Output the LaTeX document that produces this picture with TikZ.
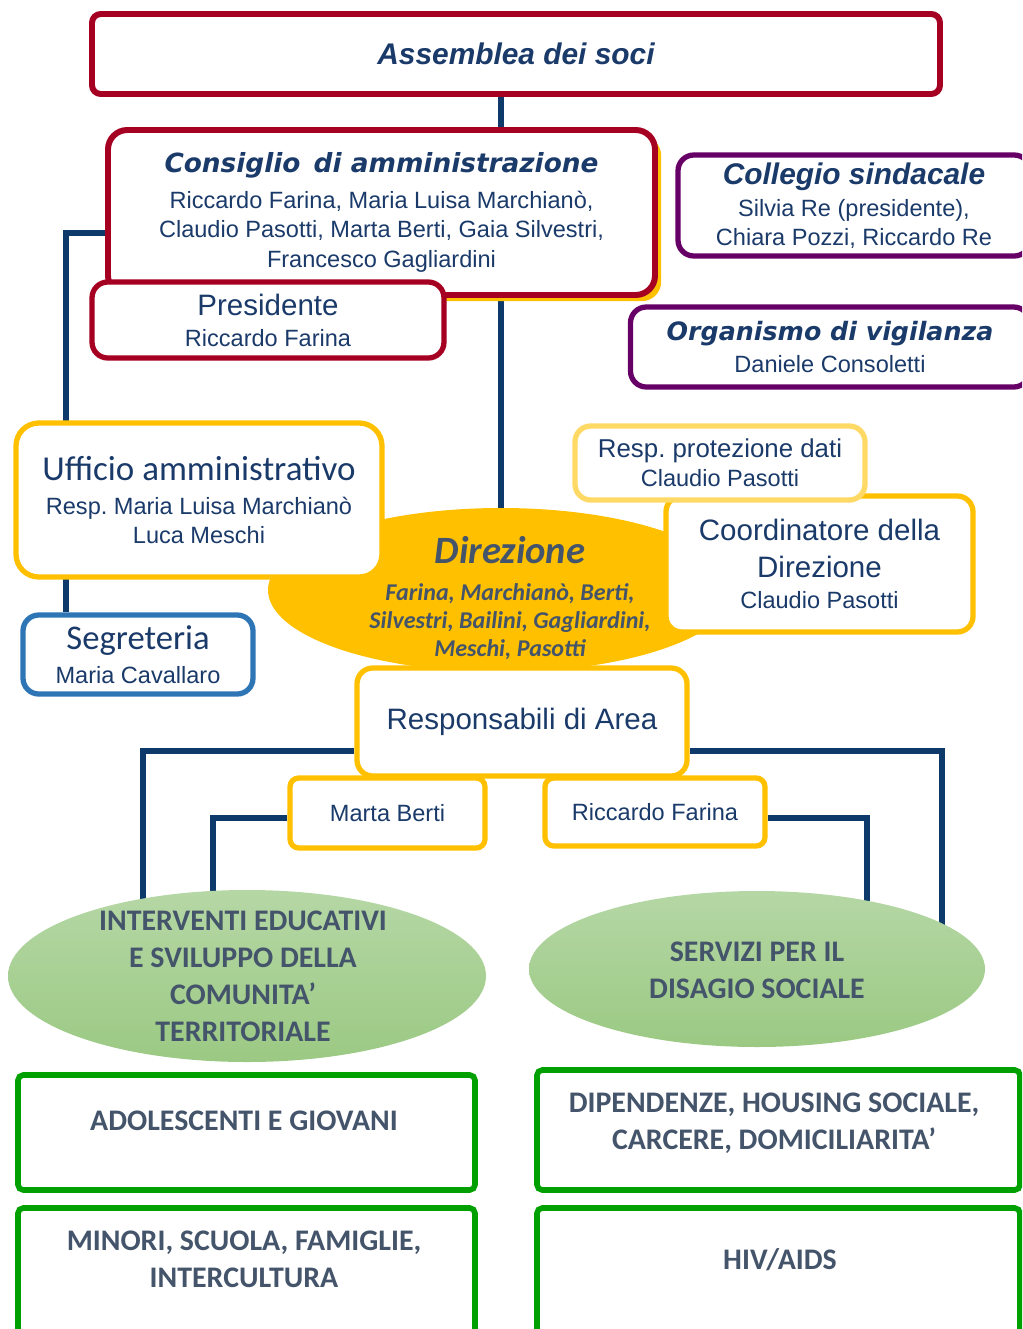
\documentclass[tikz,border=0pt]{standalone}
\usepackage{fontspec}
\setmainfont{Liberation Sans}
\newfontfamily\calibfont{Carlito}
\newfontfamily\dejafont{DejaVu Sans}
\usetikzlibrary{shapes.geometric, shadows, backgrounds}
\definecolor{navy}{HTML}{1A3A6A}
\definecolor{linenavy}{HTML}{0E3A6B}
\definecolor{bordo}{HTML}{A50021}
\definecolor{giallo}{HTML}{FFC000}
\definecolor{giallochiaro}{HTML}{FFD966}
\definecolor{viola}{HTML}{660066}
\definecolor{azzurro}{HTML}{2E75B6}
\definecolor{verde}{HTML}{00A000}
\definecolor{verdetop}{HTML}{B5D7A5}
\definecolor{verdebot}{HTML}{9BC983}
\definecolor{grigioblu}{HTML}{44546A}
\newcommand{\bodyfont}{\fontsize{13.4}{16.7}\selectfont}
\newcommand{\bigfont}{\fontsize{16.8}{20}\selectfont}
\newcommand{\headfont}{\bfseries\itshape\fontsize{17}{20}\selectfont}
\newcommand{\wideheadfont}{\dejafont\bfseries\itshape\fontsize{15}{18}\selectfont}
\newcommand{\areafont}{\calibfont\bfseries\fontsize{17}{21}\selectfont}
\frenchspacing

\begin{document}
\begin{tikzpicture}[x=0.02cm, y=-0.02cm,
			box_size/.style 2 args = {minimum width=#1*0.02cm, minimum height=#2*0.02cm},
			org_box/.style  = {draw=#1, line width=3pt, rounded corners=9pt, fill=white, inner sep=0pt, align=center, text=navy, font=\bodyfont},
			area_box/.style = {draw=verde, line width=3.2pt, rounded corners=3pt, fill=white, inner sep=0pt},
			area_ell/.style = {ellipse, draw=none, top color=verdetop, bottom color=verdebot, inner sep=0pt},
			area_txt/.style = {align=center, text=grigioblu, font=\areafont},
			conn/.style     = {draw=linenavy, line width=3.4pt},]
			
			\clip (0,0) rectangle (1022,1329);
			
			%% GOVERNANCE
			\node[org_box=bordo, box_size={848}{80}, rounded corners=5pt, line width=3.4pt] (assemblea) at (516,54) {{\headfont Assemblea dei soci}};
			\node[org_box=bordo, box_size={547}{165}, rounded corners=11pt, line width=3.4pt, general shadow={fill=giallo, shadow xshift=3.5pt, shadow yshift=-3.5pt}] (consiglio) at (381.5,212.5) {{\wideheadfont Consiglio\enspace di amministrazione}\\[3.7pt] Riccardo Farina, Maria Luisa Marchianò,\\ Claudio Pasotti, Marta Berti, Gaia Silvestri,\\ Francesco Gagliardini};
			\node[org_box=bordo, box_size={352}{76}] (presidente) at (268,320) {{\bigfont Presidente}\\[1pt] Riccardo Farina};
			\node[org_box=viola, box_size={352}{101}] (collegio) at (854,205.5) {{\headfont Collegio sindacale}\\[1.4pt] Silvia Re (presidente),\\ Chiara Pozzi, Riccardo Re};
			\node[org_box=viola, box_size={399}{80}] (organismo) at (830,347) {{\dejafont\bfseries\itshape\fontsize{14.4}{17}\selectfont Organismo di vigilanza}\\[1pt] Daniele Consoletti};
			
			%% DIREZIONE
			\node[ellipse, fill=giallo, inner sep=0pt, box_size={466}{164}] (direzione) at (501,590) {};
			\node[align=center, text=grigioblu, font=\calibfont\bfseries\itshape\fontsize{13.7}{15.9}\selectfont] (dir_txt) at (510,598) {{\fontsize{22}{24}\selectfont Direzione}\\[5.6pt] Farina, Marchianò, Berti,\\ Silvestri, Bailini, Gagliardini,\\ Meschi, Pasotti};
			\node[org_box=giallo, box_size={366}{154}, rounded corners=13pt] (ufficio) at (199,500) {{\calibfont\fontsize{19.9}{22}\selectfont Ufficio amministrativo}\\[3pt] Resp. Maria Luisa Marchianò\\ Luca Meschi};
			\node[org_box=azzurro, box_size={230}{79}] (segreteria) at (138,654.5) {{\calibfont\fontsize{19.7}{22}\selectfont Segreteria}\\[2.5pt] Maria Cavallaro};
			\node[org_box=giallo, box_size={307}{136}] (coordinatore) at (819.5,564) {{\bigfont Coordinatore della}\\[4.3pt] {\bigfont Direzione}\\[1pt] Claudio Pasotti};
			\node[org_box=giallochiaro, box_size={290}{74}] (privacy) at (720,463) {{\fontsize{14.7}{17}\selectfont Resp. protezione dati}\\ Claudio Pasotti};
			
			%% RESPONSABILI DI AREA
			\node[org_box=giallo, box_size={330}{108}] (responsabili) at (522,722) {{\bigfont Responsabili di Area}};
			\node[org_box=giallo, box_size={195}{70}, rounded corners=5pt] (berti) at (387.5,813) {Marta Berti};
			\node[org_box=giallo, box_size={220}{68}, rounded corners=5pt] (farina) at (655,812) {Riccardo Farina};
			
			%% AREE
			\node[area_ell, box_size={478}{172}] (area_edu) at (247,976) {};
			\node[area_txt] (area_edu_txt) at (243,976) {INTERVENTI EDUCATIVI\\ E SVILUPPO DELLA\\ COMUNITA’\\ TERRITORIALE};
			\node[area_ell, box_size={456}{156}] (area_dis) at (757,969) {};
			\node[area_txt] (area_dis_txt) at (757,970) {SERVIZI PER IL\\ DISAGIO SOCIALE};
			
			%% SERVIZI
			\node[area_box, box_size={457}{115}] (adolescenti) at (246.5,1132.5) {};
			\node[area_txt] (adolescenti_txt) at (244,1121) {ADOLESCENTI E GIOVANI};
			\node[area_box, box_size={483}{120}] (dipendenze) at (778.5,1130) {};
			\node[area_txt] (dipendenze_txt) at (774,1123) {DIPENDENZE, HOUSING SOCIALE,\\ CARCERE, DOMICILIARITA’};
			\node[area_box, box_size={457}{137}] (minori) at (246.5,1276.5) {};
			\node[area_txt] (minori_txt) at (244,1259.5) {MINORI, SCUOLA, FAMIGLIE,\\ INTERCULTURA};
			\node[area_box, box_size={483}{137}] (hiv) at (778.5,1276.5) {};
			\node[area_txt] (hiv_txt) at (780,1260) {HIV/AIDS};
			
			%% CONNECTORS
			\coordinate (spine_left) at (66,233);
			\coordinate (bus_left) at (143,751);
			\coordinate (bus_right) at (942,751);
			\coordinate (sub_left) at (213,818);
			\coordinate (sub_right) at (867,818);
			\begin{scope}[on background layer]
			\draw[conn] (direzione.north |- assemblea.south) -- (direzione.north);
			\draw[conn] (consiglio.west |- spine_left) -- (spine_left) -- (spine_left |- segreteria.north);
			\draw[conn] (responsabili.west |- bus_left) -- (bus_left) -- (bus_left |- area_edu.center);
			\draw[conn] (responsabili.east |- bus_right) -- (bus_right) -- (bus_right |- area_dis.center);
			\draw[conn] (berti.west |- sub_left) -- (sub_left) -- (sub_left |- area_edu.center);
			\draw[conn] (farina.east |- sub_right) -- (sub_right) -- (sub_right |- area_dis.center);
			\end{scope}
\end{tikzpicture}
\end{document}
